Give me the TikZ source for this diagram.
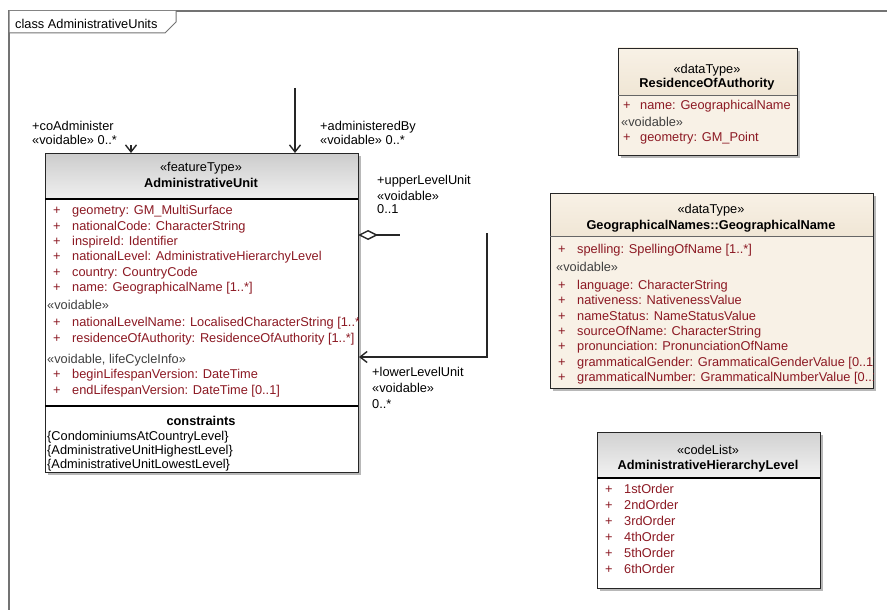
\documentclass[tikz,border=0pt]{standalone}
\usepackage{fontspec}
\setmainfont{Liberation Sans}
\usetikzlibrary{arrows.meta}

\definecolor{attrred}{RGB}{140,25,35}
\definecolor{dtbeige}{RGB}{248,241,230}
\definecolor{dthead}{RGB}{240,230,213}

\tikzset{
  umlbox/.style={draw=black!85, line width=0.8pt},
  umlshadow/.style={fill=black!28, draw=none},
  compline/.style={draw=black, line width=1.3pt},
  attr/.style={anchor=base west, inner sep=0pt, text=attrred},
  sect/.style={anchor=base west, inner sep=0pt, text=black!75},
  stereo/.style={anchor=base, inner sep=0pt},
  cname/.style={anchor=base, inner sep=0pt, font=\bfseries},
  rolelbl/.style={anchor=base west, inner sep=0pt},
  assoc/.style={draw=black!85, line width=1.4pt},
  navtip/.style={-{Straight Barb[length=7pt,width=11pt]}}
}

\begin{document}
\fontsize{12.8}{15}\selectfont
\begin{tikzpicture}[x=1pt, y=-1pt]
\useasboundingbox (0,0) rectangle (887,610);

% frame
\draw[black!55, line width=1.2pt] (9,610) -- (9,11) -- (887,11);
\draw[black!55, line width=1pt, fill=white] (9,11) -- (9,33) -- (165,33) -- (176,22) -- (176,11);
\node[rolelbl] (frame) at (15,29) {class AdministrativeUnits};

% AdministrativeUnit
\fill[umlshadow] (48,156) rectangle (361,475);
\fill[white] (45,153) rectangle (358,472);
\shade[top color=black!20, bottom color=black!6] (45,153) rectangle (358,199);
\draw[umlbox] (45,153) rectangle (358,472);
\draw[compline] (45,199) -- (358,199);
\draw[compline] (45,406) -- (358,406);
\node[stereo] (au-st) at (201,171) {«featureType»};
\node[cname] (au-name) at (201,187) {AdministrativeUnit};
\begin{scope}
\clip (45,199) rectangle (358,406);
\foreach \y/\t [count=\i] in {210/{geometry: GM\_MultiSurface},
  226/{nationalCode: CharacterString},
  241/{inspireId: Identifier},
  256/{nationalLevel: AdministrativeHierarchyLevel},
  272/{country: CountryCode},
  287/{name: GeographicalName [1..*]},
  322/{nationalLevelName: LocalisedCharacterString [1..*]},
  338/{residenceOfAuthority: ResidenceOfAuthority [1..*]},
  374/{beginLifespanVersion: DateTime},
  390/{endLifespanVersion: DateTime [0..1]}}
  \node[attr] (au-a\i) at (53,{\y+4}) {\makebox[19pt][l]{+}\t};
\node[sect] (au-void) at (47,309) {«voidable»};
\node[sect] (au-life) at (47,363) {«voidable, lifeCycleInfo»};
\end{scope}
\node[cname] (au-con) at (201,425) {constraints};
\node[rolelbl] (au-c1) at (47,440) {\{CondominiumsAtCountryLevel\}};
\node[rolelbl] (au-c2) at (47,454) {\{AdministrativeUnitHighestLevel\}};
\node[rolelbl] (au-c3) at (47,468) {\{AdministrativeUnitLowestLevel\}};

% ResidenceOfAuthority
\fill[umlshadow] (621,51) rectangle (800,158);
\fill[dtbeige] (618,48) rectangle (797,155);
\shade[top color=dtbeige, bottom color=dthead] (618,48) rectangle (797,95);
\draw[umlbox] (618,48) rectangle (797,155);
\draw[draw=black!60, line width=0.8pt] (618,95) -- (797,95);
\node[stereo] (ra-st) at (707,74) {«dataType»};
\node[cname] (ra-name) at (707,88) {ResidenceOfAuthority};
\begin{scope}
\clip (618,95) rectangle (797,155);
\node[attr] (ra-a1) at (623,110) {\makebox[17pt][l]{+}name: GeographicalName};
\node[sect] (ra-void) at (621,126) {«voidable»};
\node[attr] (ra-a2) at (623,142) {\makebox[17pt][l]{+}geometry: GM\_Point};
\end{scope}

% GeographicalName
\fill[umlshadow] (553,196) rectangle (876,391);
\fill[dtbeige] (550,193) rectangle (873,388);
\shade[top color=dtbeige, bottom color=dthead] (550,193) rectangle (873,236);
\draw[umlbox] (550,193) rectangle (873,388);
\draw[draw=black!60, line width=0.8pt] (550,236) -- (873,236);
\node[stereo] (gn-st) at (711,213) {«dataType»};
\node[cname] (gn-name) at (711,229) {GeographicalNames::GeographicalName};
\begin{scope}
\clip (550,236) rectangle (873,388);
\node[attr] (gn-a0) at (558,253) {\makebox[19pt][l]{+}spelling: SpellingOfName [1..*]};
\node[sect] (gn-void) at (556,271) {«voidable»};
\foreach \y/\t [count=\i] in {285/{language: CharacterString},
  300/{nativeness: NativenessValue},
  316/{nameStatus: NameStatusValue},
  331/{sourceOfName: CharacterString},
  346/{pronunciation: PronunciationOfName},
  362/{grammaticalGender: GrammaticalGenderValue [0..1]},
  377/{grammaticalNumber: GrammaticalNumberValue [0..1]}}
  \node[attr] (gn-a\i) at (558,{\y+4}) {\makebox[19pt][l]{+}\t};
\end{scope}

% AdministrativeHierarchyLevel
\fill[umlshadow] (600,435) rectangle (823,591);
\fill[white] (597,432) rectangle (820,588);
\shade[top color=black!18, bottom color=black!5] (597,432) rectangle (820,478);
\draw[umlbox] (597,432) rectangle (820,588);
\draw[compline] (597,478) -- (820,478);
\node[stereo] (hl-st) at (708,454) {«codeList»};
\node[cname] (hl-name) at (708,469) {AdministrativeHierarchyLevel};
\foreach \y/\t [count=\i] in {489/1stOrder, 505/2ndOrder, 521/3rdOrder,
  537/4thOrder, 553/5thOrder, 569/6thOrder}
  \node[attr] (hl-a\i) at (605,{\y+4}) {\makebox[19pt][l]{+}\t};

% associations
\coordinate (admTop) at (295,88);
\coordinate (admEnd) at (295,153);
\coordinate (coStub) at (131,145);
\coordinate (coEnd) at (131,153);
\coordinate (upEnd) at (358,235);
\coordinate (upStub) at (400,235);
\coordinate (lowTop) at (487,233);
\coordinate (lowCorner) at (487,357);
\coordinate (lowEnd) at (359,357);
\draw[assoc, navtip] (admTop) -- (admEnd);
\draw[assoc, navtip] (coStub) -- (coEnd);
\draw[assoc, {Diamond[open,length=20pt,width=10pt]}-] (upEnd) -- (upStub);
\draw[assoc, navtip] (lowTop) -- (lowCorner) -- (lowEnd);

\node[rolelbl] (co-r) at (32,130) {+coAdminister};
\node[rolelbl] (co-m) at (32,144) {«voidable» 0..*};
\node[rolelbl] (adm-r) at (320,130) {+administeredBy};
\node[rolelbl] (adm-m) at (320,144) {«voidable» 0..*};
\node[rolelbl] (up-r) at (377,184) {+upperLevelUnit};
\node[rolelbl] (up-v) at (377,200) {«voidable»};
\node[rolelbl] (up-m) at (377,213) {0..1};
\node[rolelbl] (low-r) at (372,376) {+lowerLevelUnit};
\node[rolelbl] (low-v) at (372,392) {«voidable»};
\node[rolelbl] (low-m) at (372,408) {0..*};
\end{tikzpicture}
\end{document}
